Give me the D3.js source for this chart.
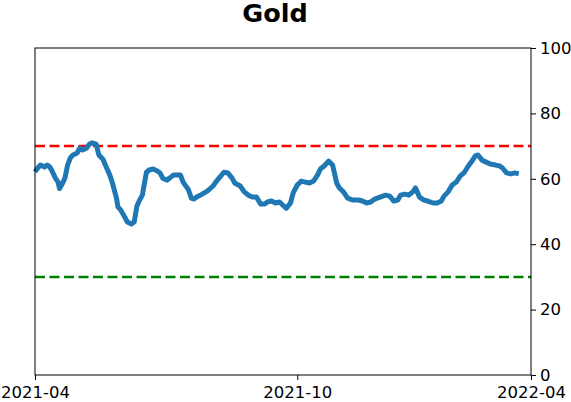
<!DOCTYPE html>
<html>
<head>
<meta charset="utf-8">
<script src="https://cdn.jsdelivr.net/npm/d3@7"></script>
<style>
  body { margin: 0; background: #fff; }
  text { font-family: "DejaVu Sans", sans-serif; }
</style>
</head>
<body>
<script>
// day offset from the left edge of the chart
var days = [0, 2, 4, 7, 9, 11, 13, 15, 17, 18, 20, 22, 24, 26, 28, 31, 33, 35, 38, 40,
    42, 45, 47, 50, 52, 55, 57, 60, 61, 63, 66, 68, 71, 73, 75, 77, 79, 82, 84, 87,
    90, 92, 94, 97, 99, 102, 107, 109, 113, 115, 117, 120, 123, 127, 131, 133, 136, 139, 142, 145,
    147, 151, 154, 157, 160, 163, 166, 169, 171, 174, 177, 180, 183, 185, 188, 190, 193, 196, 199, 202,
    205, 208, 210, 213, 216, 219, 222, 224, 227, 230, 234, 238, 241, 244, 247, 250, 254, 258, 261, 264,
    267, 269, 272, 275, 278, 280, 283, 286, 289, 293, 296, 299, 301, 304, 307, 310, 313, 316, 319, 322,
    324, 326, 329, 332, 335, 339, 342, 344, 347, 350, 353, 356];

var values = [62.1, 63.3, 64.2, 63.6, 64.2, 63.6, 62.0, 60.2, 59.0, 57.0, 58.4, 60.2, 64.2, 66.4, 67.3, 67.9, 69.4, 68.8, 69.4, 70.6,
    71.0, 70.6, 67.3, 66.0, 64.0, 61.2, 58.7, 54.0, 51.4, 50.5, 48.3, 46.8, 46.2, 46.8, 51.7, 53.5, 55.0, 62.0, 62.7, 63.0,
    62.4, 61.8, 60.2, 59.6, 60.2, 61.2, 61.2, 59.0, 56.6, 54.1, 53.8, 54.7, 55.3, 56.3, 57.8, 59.0, 60.5, 62.0, 61.8, 60.2,
    58.7, 57.8, 56.0, 55.0, 54.4, 54.4, 52.3, 52.3, 52.9, 53.2, 52.6, 52.9, 51.7, 51.0, 52.6, 55.7, 58.1, 59.3, 59.0, 58.7,
    59.3, 61.2, 63.0, 64.0, 65.4, 64.2, 58.7, 57.2, 56.0, 54.1, 53.5, 53.5, 53.2, 52.6, 52.9, 53.8, 54.4, 55.0, 54.7, 53.2,
    53.5, 55.0, 55.3, 55.0, 56.0, 57.2, 54.4, 53.5, 53.2, 52.6, 52.6, 53.2, 54.7, 56.0, 58.1, 59.0, 60.9, 62.0, 64.0, 65.7,
    67.0, 67.3, 65.7, 65.1, 64.5, 64.2, 63.9, 63.3, 61.8, 61.5, 61.8, 61.5];

var tickDays = [0, 193, 365];
var tickLabels = ["2021-04", "2021-10", "2022-04"];
var upperLevel = 70, lowerLevel = 30;

var svg = d3.select("body").append("svg")
    .attr("width", 571)
    .attr("height", 402);

var margin = { top: 48, right: 40, bottom: 27, left: 35 },
    width = +svg.attr("width") - margin.left - margin.right,
    height = +svg.attr("height") - margin.top - margin.bottom,
    g = svg.append("g").attr("transform", "translate(" + margin.left + "," + margin.top + ")");

var x = d3.scaleLinear().domain([0, 365]).range([0, width]);
var y = d3.scaleLinear().domain([0, 100]).range([height, 0]);

// reference levels
g.append("line")
    .attr("x1", 0).attr("x2", width)
    .attr("y1", y(upperLevel)).attr("y2", y(upperLevel))
    .attr("stroke", "#ff0000")
    .attr("stroke-width", 2.5)
    .attr("stroke-dasharray", "10,4.5");

g.append("line")
    .attr("x1", 0).attr("x2", width)
    .attr("y1", y(lowerLevel)).attr("y2", y(lowerLevel))
    .attr("stroke", "#008000")
    .attr("stroke-width", 2.5)
    .attr("stroke-dasharray", "10,4.5");

var line = d3.line()
    .x(function (d, i) { return x(days[i]); })
    .y(function (d) { return y(d); });

g.append("path")
    .datum(values)
    .attr("fill", "none")
    .attr("stroke", "#1f77b4")
    .attr("stroke-width", 5)
    .attr("stroke-linejoin", "round")
    .attr("stroke-linecap", "butt")
    .attr("d", line);

// frame
g.append("rect")
    .attr("width", width)
    .attr("height", height)
    .attr("fill", "none")
    .attr("stroke", "#000")
    .attr("stroke-width", 1);

var xAxis = g.append("g")
    .attr("transform", "translate(0," + height + ")")
    .call(d3.axisBottom(x)
        .tickValues(tickDays)
        .tickFormat(function (d, i) { return tickLabels[i]; })
        .tickSize(5)
        .tickPadding(6));

var yAxis = g.append("g")
    .attr("transform", "translate(" + width + ",0)")
    .call(d3.axisRight(y)
        .tickValues([0, 20, 40, 60, 80, 100])
        .tickSize(5)
        .tickPadding(4));

[xAxis, yAxis].forEach(function (a) {
    a.select(".domain").remove();
    a.selectAll("line").attr("stroke", "#000");
    a.selectAll("text")
        .attr("fill", "#000")
        .style("font-family", "'DejaVu Sans', sans-serif")
        .style("font-size", "16.5px");
});

svg.append("text")
    .attr("x", 275)
    .attr("y", 22)
    .style("text-anchor", "middle")
    .style("font-weight", "bold")
    .style("font-size", "25.5px")
    .text("Gold");
</script>
</body>
</html>
